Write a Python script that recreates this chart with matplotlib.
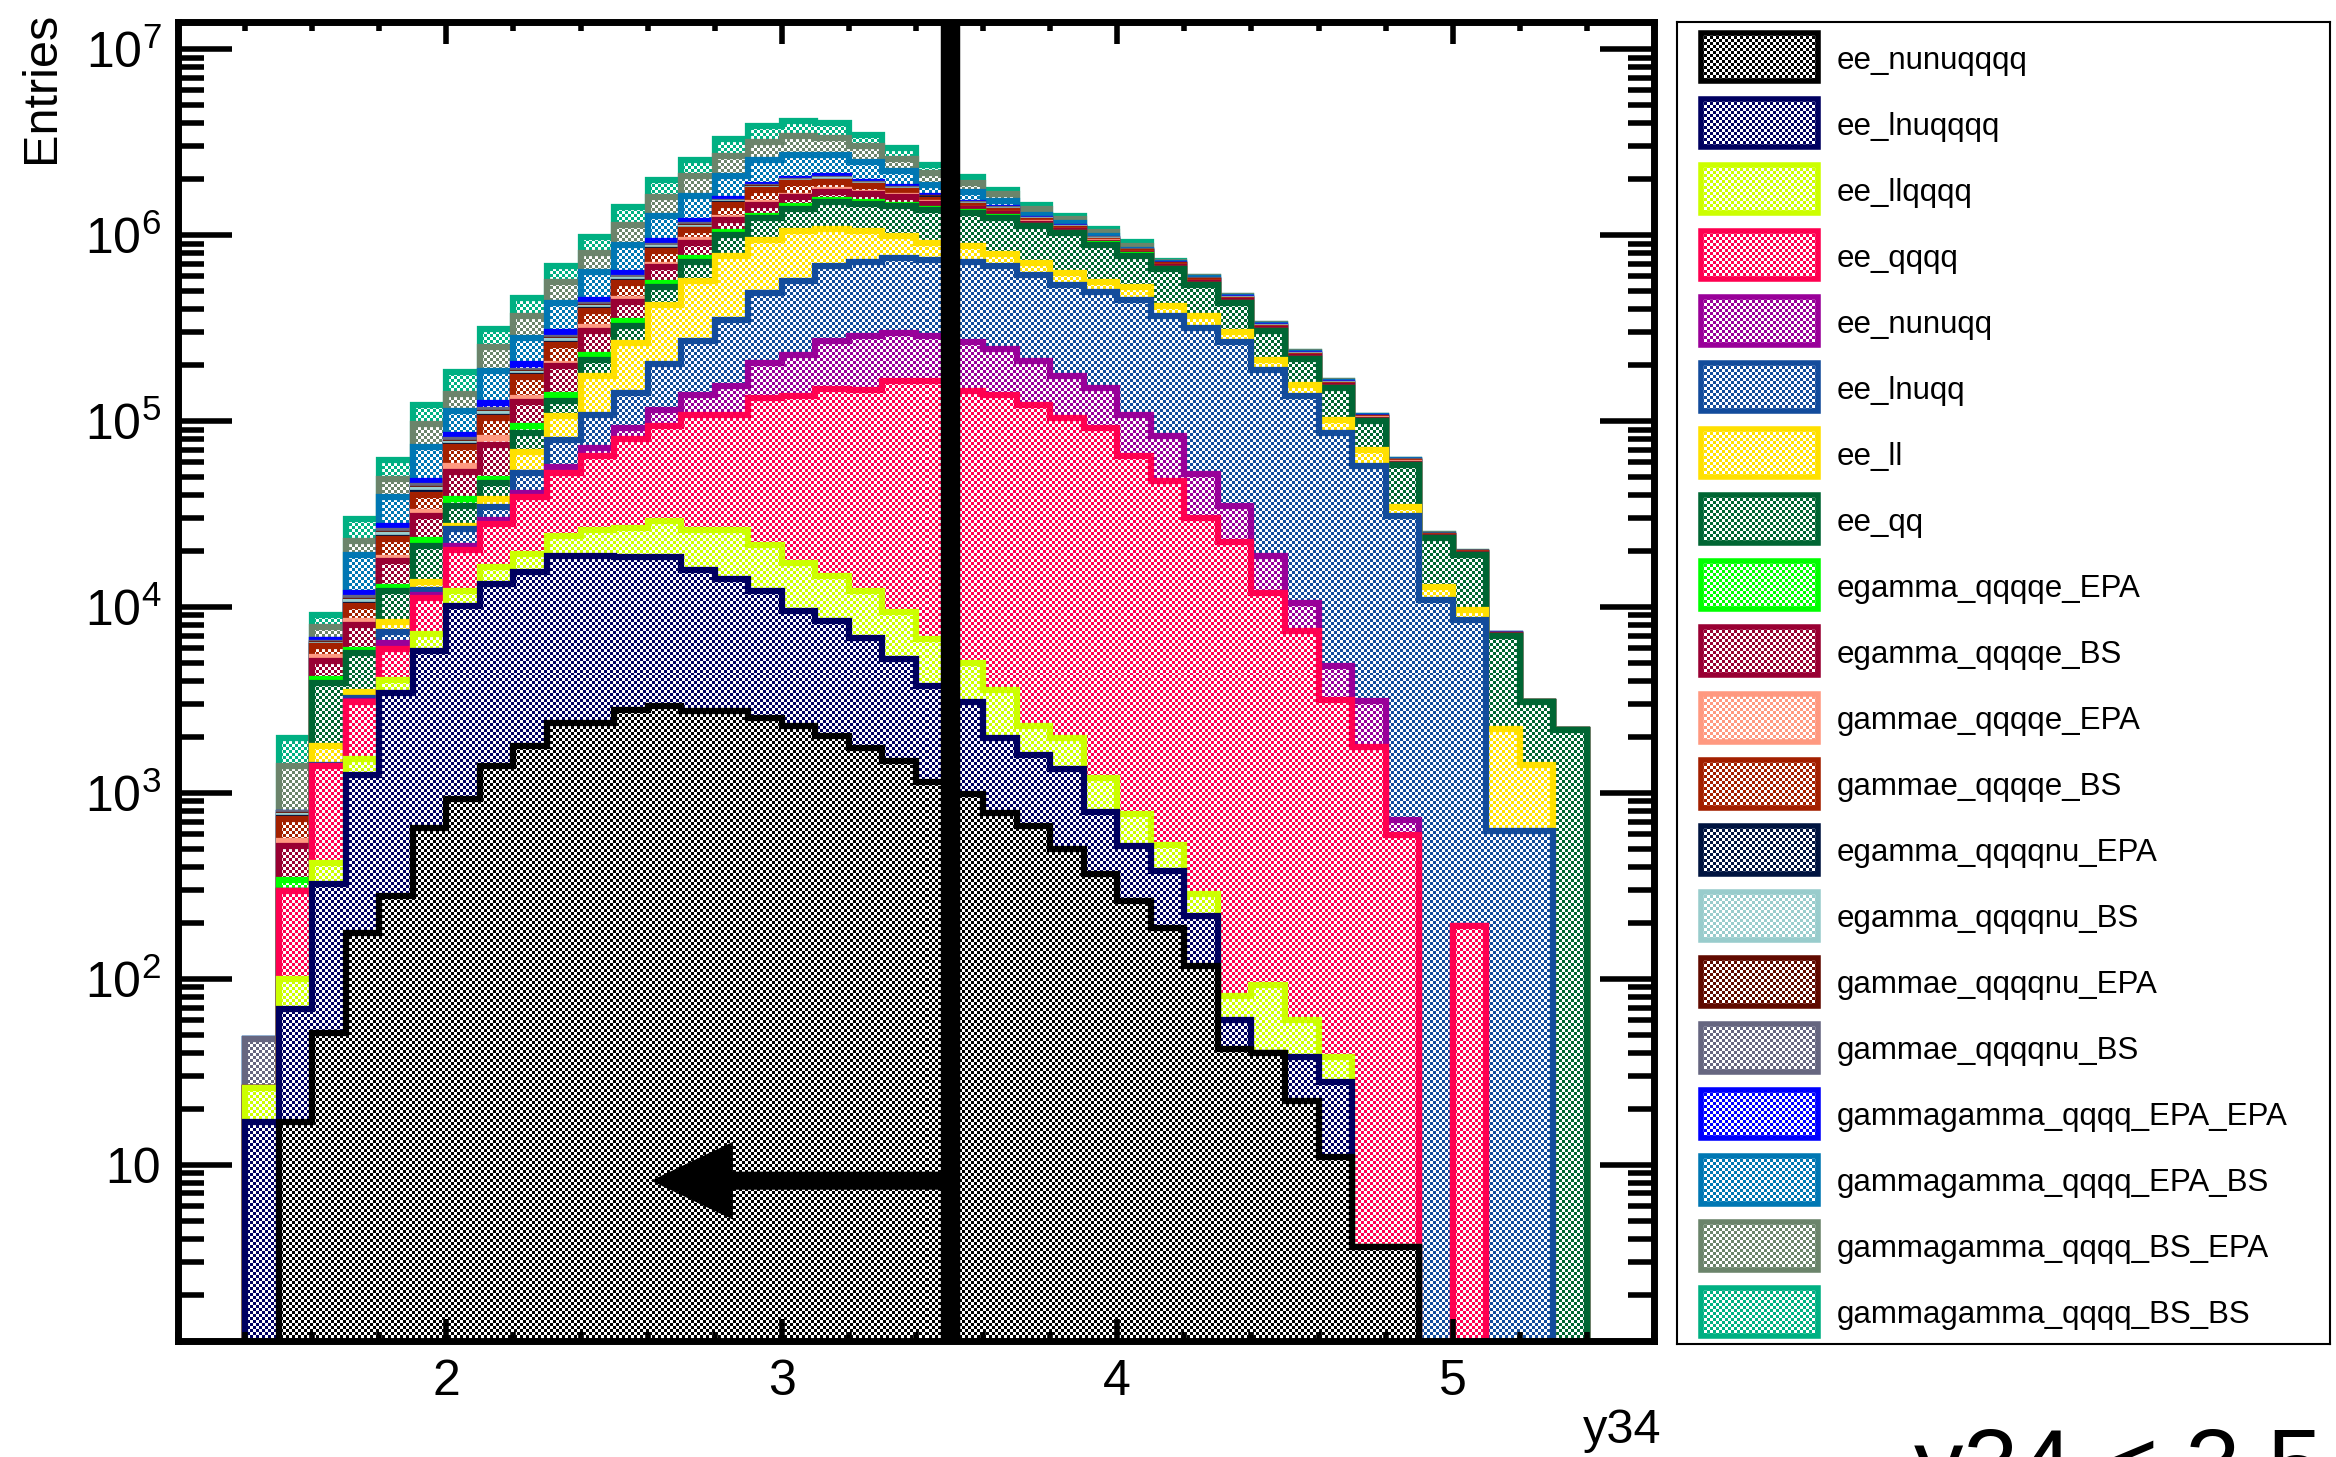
#!usr/bin/env python

import numpy as np
import matplotlib
matplotlib.use("Agg")
import matplotlib.pyplot as plt
from matplotlib.colors import to_rgb
from matplotlib.patches import Rectangle
from matplotlib.ticker import (FixedLocator, MultipleLocator, LogLocator,
                               FuncFormatter, NullFormatter)

plt.rcParams['font.family'] = ['Liberation Sans', 'DejaVu Sans']
plt.rcParams['mathtext.fontset'] = 'custom'
plt.rcParams['mathtext.rm'] = 'Liberation Sans'
plt.rcParams['mathtext.it'] = 'Liberation Sans:italic'
plt.rcParams['mathtext.bf'] = 'Liberation Sans:bold'

# y34 binning and the cut
x_low, x_high, n_bins = 1.4, 5.4, 40
cut_value = 3.5

# ======================
# ENTRIES PER PROCESS (40 bins each)
# ======================
ee_nunuqqqq = [0, 17, 51, 176, 278, 647, 930, 1390, 1780, 2380,
               2380, 2800, 2920, 2750, 2750, 2530, 2280, 2020, 1740, 1480,
               1140, 990, 780, 660, 500, 367, 261, 188, 117, 42,
               40, 22, 11, 3.6, 3.6, 0, 0, 0, 0, 0]
ee_lnuqqqq = [17, 52, 273, 1077, 3167, 5128, 9150, 11900, 13590, 16360,
              16320, 15800, 15700, 13100, 11400, 9610, 7200, 6360, 5070, 3770,
              2600, 2080, 1190, 945, 845, 419, 255, 191, 100, 18,
              0, 16, 17, 0, 0, 0, 0, 0, 0, 0]
ee_llqqqq = [9, 31, 96, 268, 618, 1380, 2060, 3060, 3980, 5430,
             7340, 8000, 10300, 10200, 11900, 9490, 7760, 6250, 5330, 4110,
             2980, 1930, 1620, 690, 630, 416, 254, 148, 67, 21,
             53, 22, 10, 0, 0, 0, 0, 0, 0, 0]
ee_qqqq = [0, 197, 970, 1549, 1901, 4015, 8180, 11700, 19550, 28400,
           38600, 53500, 65500, 82200, 82200, 111400, 119700, 134200, 134300, 154300,
           157000, 139600, 135000, 120200, 101900, 90570, 63870, 46900, 29820, 22190,
           11800, 7340, 3130, 1755, 592, 0, 193, 0, 0, 0]
ee_nunuqq = [0, 0, 10, 60, 400, 400, 890, 1430, 2130, 3830,
             7000, 11700, 20700, 30400, 45600, 72300, 90600, 119800, 139400, 133900,
             124200, 120700, 105500, 87200, 71500, 58830, 43560, 35360, 21820, 12780,
             6850, 3100, 1625, 1350, 121, 0, 0, 0, 0, 0]
ee_lnuqq = [0, 0, 20, 100, 1000, 700, 5060, 4880, 11540, 22400,
            36560, 49800, 87600, 130000, 197200, 283300, 337200, 411500, 428700, 456200,
            450100, 449200, 436000, 403200, 365900, 342200, 341300, 283100, 264700, 230200,
            168900, 126400, 81470, 54420, 30020, 10940, 8350, 622, 622, 0]
ee_ll = [0, 0, 374, 245, 936, 1300, 1090, 3730, 15860, 27300,
         65900, 121400, 219900, 296100, 418500, 457000, 484300, 399900, 334500, 232000,
         169800, 156500, 114600, 95400, 84500, 65000, 76600, 48400, 49300, 34900,
         26300, 18800, 15400, 12620, 3760, 1870, 1054, 1584, 796, 0]
ee_qq = [0, 0, 2106, 2180, 3840, 7640, 7430, 8340, 17840, 21600,
         39800, 62900, 101600, 152500, 236500, 291400, 334000, 422000, 427000, 444200,
         453200, 444000, 442300, 407700, 401200, 330500, 249100, 243200, 173400, 131400,
         91200, 60000, 48900, 29950, 23530, 10690, 9440, 4800, 1652, 2171]
egamma_qqqqe_EPA = [0, 43, 200, 236, 670, 1800, 3300, 2530, 7450, 10900,
                    13600, 18100, 28800, 36600, 30000, 36000, 47000, 38000, 26000, 28000,
                    22000, 10000, 9000, 6000, 5000, 4000, 3000, 3000, 2500, 2000,
                    1500, 1000, 700, 400, 200, 50, 40, 0, 0, 0]
egamma_qqqqe_BS = [0, 175, 1004, 2136, 4800, 7730, 14940, 25670, 32480, 58400,
                   76500, 91400, 118700, 154000, 175000, 187000, 170000, 173000, 159000, 135000,
                   87000, 48000, 45000, 30000, 22000, 18000, 13000, 12000, 10000, 7000,
                   5000, 3500, 2500, 1300, 800, 200, 150, 40, 0, 0]
gammae_qqqqe_EPA = [0, 33, 279, 347, 730, 1570, 4080, 6450, 6800, 6500,
                    16600, 18100, 22000, 37800, 26000, 30000, 30000, 30000, 25000, 25000,
                    20000, 9000, 8000, 5000, 4000, 3000, 2000, 2000, 2000, 1500,
                    1000, 700, 500, 300, 150, 20, 20, 0, 0, 0]
gammae_qqqqe_BS = [0, 177, 760, 1706, 4950, 7860, 15150, 22820, 39600, 54000,
                   68800, 99500, 131100, 116400, 221000, 253000, 279000, 182000, 145000, 104000,
                   62000, 48000, 45000, 30000, 22000, 18000, 13000, 12000, 10000, 7000,
                   5000, 3500, 2500, 1300, 800, 200, 150, 40, 0, 0]
egamma_qqqqnu_EPA = [0, 8, 40, 150, 300, 600, 900, 1400, 1700, 2800,
                     4000, 4400, 6200, 9000, 6000, 8000, 6000, 11000, 7000, 6000,
                     5000, 5000, 5000, 3000, 2000, 2000, 1500, 1000, 1000, 800,
                     500, 300, 200, 100, 50, 10, 10, 0, 0, 0]
egamma_qqqqnu_BS = [0, 20, 90, 400, 900, 1700, 2500, 4000, 5000, 8400,
                    12000, 13200, 18600, 27000, 19000, 25000, 19000, 33000, 23000, 19000,
                    15000, 15000, 14000, 9000, 7000, 6000, 4500, 3000, 3000, 2200,
                    1500, 1000, 700, 400, 250, 30, 30, 10, 0, 0]
gammae_qqqqnu_EPA = [0, 6, 40, 140, 300, 600, 900, 1400, 1700, 2800,
                     4000, 4400, 6200, 9000, 6000, 8000, 6000, 11000, 7000, 6000,
                     5000, 5000, 5000, 3000, 2000, 2000, 1500, 1000, 1000, 800,
                     500, 300, 200, 100, 50, 10, 10, 0, 0, 0]
gammae_qqqqnu_BS = [21.5, 16, 87, 400, 840, 1670, 2540, 4000, 4900, 8300,
                    11600, 13100, 18500, 27000, 19000, 25000, 19000, 33000, 23000, 19000,
                    15000, 15000, 14000, 9000, 7000, 6000, 4500, 3000, 2800, 2200,
                    1500, 1000, 700, 400, 250, 30, 30, 10, 0, 0]
gammagamma_qqqq_EPA_EPA = [0, 4, 243, 720, 1530, 3040, 5360, 10400, 16800, 22700,
                           28500, 37700, 52500, 54000, 57000, 60000, 46000, 60000, 34000, 44000,
                           26000, 20000, 18000, 11000, 8000, 6000, 3600, 5000, 4000, 3400,
                           2400, 1400, 1000, 500, 300, 100, 60, 20, 0, 0]
gammagamma_qqqq_EPA_BS = [0, 0, 0, 7210, 11740, 24750, 28340, 61500, 76100, 129100,
                          181700, 262500, 337200, 442000, 523000, 659000, 704000, 636000, 541000, 390000,
                          251000, 210000, 121000, 67000, 57000, 32000, 13300, 10000, 9000, 7000,
                          5000, 3000, 2000, 1000, 600, 200, 80, 20, 0, 0]
gammagamma_qqqq_BS_EPA = [0, 610, 1159, 3630, 10060, 23900, 27000, 63600, 89900, 126200,
                          170500, 249700, 341000, 443000, 588000, 631000, 693000, 622000, 541000, 363000,
                          291000, 209000, 150000, 94000, 59000, 50000, 42400, 10000, 8000, 6000,
                          4500, 2800, 2000, 900, 450, 200, 70, 10, 0, 0]
gammagamma_qqqq_BS_BS = [0, 583, 1218, 7010, 12540, 26070, 43100, 62600, 90300, 122300,
                         175800, 274000, 368000, 473000, 614000, 721000, 697000, 682000, 464000, 375000,
                         234000, 146000, 85000, 75000, 51000, 44000, 37800, 4000, 3000, 1000,
                         500, 200, 100, 100, 50, 0, 0, 0, 0, 0]

# stack order, bottom first (same order as the legend)
processes = ['ee_nunuqqqq', 'ee_lnuqqqq', 'ee_llqqqq', 'ee_qqqq', 'ee_nunuqq',
             'ee_lnuqq', 'ee_ll', 'ee_qq', 'egamma_qqqqe_EPA', 'egamma_qqqqe_BS',
             'gammae_qqqqe_EPA', 'gammae_qqqqe_BS', 'egamma_qqqqnu_EPA',
             'egamma_qqqqnu_BS', 'gammae_qqqqnu_EPA', 'gammae_qqqqnu_BS',
             'gammagamma_qqqq_EPA_EPA', 'gammagamma_qqqq_EPA_BS',
             'gammagamma_qqqq_BS_EPA', 'gammagamma_qqqq_BS_BS']
counts = [ee_nunuqqqq, ee_lnuqqqq, ee_llqqqq, ee_qqqq, ee_nunuqq,
          ee_lnuqq, ee_ll, ee_qq, egamma_qqqqe_EPA, egamma_qqqqe_BS,
          gammae_qqqqe_EPA, gammae_qqqqe_BS, egamma_qqqqnu_EPA,
          egamma_qqqqnu_BS, gammae_qqqqnu_EPA, gammae_qqqqnu_BS,
          gammagamma_qqqq_EPA_EPA, gammagamma_qqqq_EPA_BS,
          gammagamma_qqqq_BS_EPA, gammagamma_qqqq_BS_BS]
colors = ['#000000', '#000060', '#ccff00', '#ff0050', '#990099',
          '#134c9c', '#ffe000', '#006633', '#00ff00', '#990033',
          '#ff9980', '#a32000', '#001440', '#99cccc', '#600a00',
          '#666680', '#0000ff', '#0077b3', '#6b846b', '#00b082']


def checker_image(color, mask):
    # ROOT style checkered fill: colour on half the cells, white on the rest
    img = np.ones(mask.shape + (3,))
    img[mask] = to_rgb(color)
    return img


def ylabel_fmt(v, pos):
    e = int(round(np.log10(v)))
    if e <= 0:
        return ''
    if e == 1:
        return '10'
    return r'$\mathregular{10^{%d}}$' % e


W, H, DPI = 2336, 1457, 100
fig = plt.figure(figsize=(W / DPI, H / DPI), dpi=DPI)

# frame position in pixels
ax_l, ax_r, ax_t, ax_b = 178, 1654, 22, 1341
ax = fig.add_axes([ax_l / W, 1 - ax_b / H, (ax_r - ax_l) / W, (ax_b - ax_t) / H])
ax.set_yscale('log')
ax.set_xlim(1.2, 5.6)
ax.set_ylim(1.126, 1.4e7)
ax.set_autoscale_on(False)

edges = np.linspace(x_low, x_high, n_bins + 1)
stack = np.cumsum(np.array(counts, dtype=float), axis=0)
floor = 1e-3

cell = 3
nx = round((ax_r - ax_l) / cell)
ny = round((ax_b - ax_t) / cell)
checks = (np.add.outer(np.arange(ny), np.arange(nx)) % 2) == 0

# draw like THStack: biggest sum first, each smaller sum painted over it
n = len(processes)
for k in range(n - 1, -1, -1):
    z = 2 + 2 * (n - 1 - k)
    top = np.maximum(stack[k], floor)
    region = ax.stairs(top, edges, baseline=floor, fill=True,
                       facecolor='none', edgecolor='none', zorder=z)
    im = ax.imshow(checker_image(colors[k], checks), extent=(0, 1, 0, 1),
                   transform=ax.transAxes, interpolation='nearest',
                   aspect='auto', zorder=z)
    im.set_clip_path(region)
    ax.stairs(top, edges, baseline=floor, fill=False, edgecolor=colors[k],
              linewidth=4.5, joinstyle='miter', zorder=z + 1)

# cut line and arrow
ax.axvline(cut_value, color='k', lw=14, zorder=100)
ax.annotate('', xy=(2.61, 8.2), xytext=(cut_value, 8.2),
            arrowprops=dict(arrowstyle='simple,head_length=0.59,head_width=0.56,tail_width=0.13',
                            mutation_scale=100, color='k', lw=0,
                            shrinkA=0, shrinkB=0),
            zorder=101)

# axes style
ax.xaxis.set_major_locator(FixedLocator([2, 3, 4, 5]))
ax.xaxis.set_minor_locator(MultipleLocator(0.2))
ax.yaxis.set_major_locator(LogLocator(base=10, numticks=20))
ax.yaxis.set_minor_locator(LogLocator(base=10, subs=np.arange(2, 10), numticks=20))
ax.yaxis.set_minor_formatter(NullFormatter())
ax.yaxis.set_major_formatter(FuncFormatter(ylabel_fmt))

ax.tick_params(which='both', direction='in', top=True, right=True,
               width=4, color='k', labelsize=36)
ax.tick_params(axis='y', which='major', length=39, pad=12)
ax.tick_params(axis='y', which='minor', length=19)
ax.tick_params(axis='x', which='major', length=16, pad=13)
ax.tick_params(axis='x', which='minor', length=6.5)
for s in ax.spines.values():
    s.set_linewidth(5)
    s.set_zorder(200)
ax.xaxis.set_zorder(210)
ax.yaxis.set_zorder(210)

fig.text(54 / W, 1 - 12 / H, 'Entries', rotation=90, rotation_mode='anchor',
         ha='right', va='baseline', fontsize=35)
fig.text(1661 / W, 1 - 1443 / H, 'y34', ha='right', va='baseline', fontsize=35)
fig.text(1914 / W, 1 - 1498 / H, 'y34 < 3.5', ha='left', va='baseline', fontsize=71)

# ========================
# LEGEND BOX
# ========================
lg_l, lg_r, lg_t, lg_b = 1677, 2330, 22, 1344
lax = fig.add_axes([lg_l / W, 1 - lg_b / H, (lg_r - lg_l) / W, (lg_b - lg_t) / H])
lax.set_xlim(0, lg_r - lg_l)
lax.set_ylim(lg_b - lg_t, 0)
lax.set_autoscale_on(False)
lax.set_xticks([])
lax.set_yticks([])
for s in lax.spines.values():
    s.set_linewidth(1.5)

sw_x, sw_w, sw_h = 24, 117, 48
sw_mask = (np.add.outer(np.arange(sw_h // cell), np.arange(sw_w // cell)) % 2) == 0
for i, (name, c) in enumerate(zip(processes, colors)):
    yc = 35 + 66.05 * i
    lax.imshow(checker_image(c, sw_mask),
               extent=(sw_x, sw_x + sw_w, yc + sw_h / 2, yc - sw_h / 2),
               interpolation='nearest', aspect='auto')
    lax.add_patch(Rectangle((sw_x, yc - sw_h / 2), sw_w, sw_h, fill=False,
                            edgecolor=c, linewidth=4, joinstyle='miter'))
    lax.text(160, yc, name, fontsize=22.5, ha='left', va='center_baseline')

fig.savefig('out.png', dpi=DPI)
